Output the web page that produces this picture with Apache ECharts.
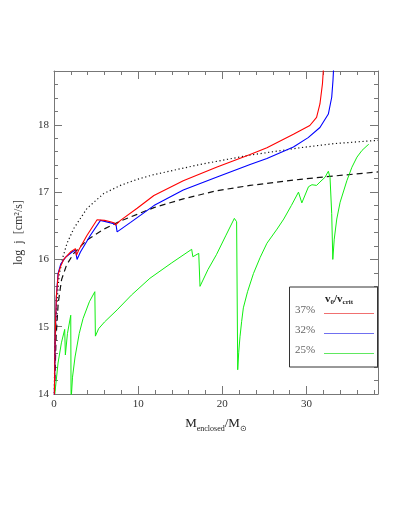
<!DOCTYPE html>
<html>
<head>
<meta charset="utf-8">
<script src="https://cdn.jsdelivr.net/npm/echarts@6/dist/echarts.min.js"></script>
<style>
  html, body { margin: 0; padding: 0; background: #fff; }
  #chart { width: 411px; height: 532px; }
</style>
</head>
<body>
<div id="chart"></div>
<script>
// M_enclosed (Msun) and log j values
const redM = [0.03, 0.15, 0.28, 0.5, 0.8, 1.15, 1.95, 2.55, 2.67, 2.94, 3.93, 5.12, 6.0, 6.71, 7.2, 7.3, 7.9, 9.88, 11.87, 15.36, 19.3, 23.3, 25.3, 28.45, 30.4, 31.2, 31.6, 31.9, 32.05]
const redJ = [13.9, 14.9, 15.45, 15.78, 15.9, 16.0, 16.11, 16.16, 16.06, 16.14, 16.36, 16.59, 16.58, 16.56, 16.54, 16.51, 16.58, 16.76, 16.95, 17.17, 17.37, 17.56, 17.66, 17.86, 17.99, 18.11, 18.31, 18.61, 18.9]

const blueM = [0.03, 0.17, 0.28, 0.48, 0.8, 1.36, 2.15, 2.55, 2.74, 3.14, 4.33, 5.52, 6.5, 7.1, 7.38, 7.5, 9.1, 11.87, 15.36, 19.3, 23.3, 25.3, 28.45, 30.2, 31.6, 32.6, 33.0, 33.15, 33.25]
const blueJ = [13.9, 14.95, 15.45, 15.79, 15.93, 16.03, 16.11, 16.14, 16.0, 16.11, 16.36, 16.58, 16.55, 16.53, 16.51, 16.41, 16.55, 16.8, 17.03, 17.22, 17.41, 17.5, 17.67, 17.81, 17.96, 18.16, 18.41, 18.66, 18.9]

const greenM = [0.1, 0.48, 0.88, 1.27, 1.35, 1.6, 1.99, 2.03, 2.2, 2.5, 3.0, 3.45, 4.2, 4.85, 4.92, 5.3, 6.0, 7.5, 9.2, 11.4, 14.0, 16.36, 16.5, 17.2, 17.35, 18.3, 19.3, 20.4, 21.43, 21.7, 21.83, 21.95, 22.1, 22.3, 22.5, 23.0, 23.7, 24.5, 25.3, 26.5, 27.3, 28.2, 29.05, 29.45, 30.24, 30.65, 31.2, 31.6, 32.2, 32.6, 32.8, 33.0, 33.13, 33.3, 33.6, 34.0, 34.8, 35.4, 36.0, 36.6, 37.2, 37.4]
const greenJ = [14.0, 14.46, 14.76, 14.96, 14.58, 14.9, 15.17, 13.9, 14.25, 14.55, 14.9, 15.12, 15.37, 15.52, 14.86, 14.97, 15.07, 15.25, 15.47, 15.72, 15.95, 16.15, 16.04, 16.09, 15.6, 15.85, 16.07, 16.35, 16.61, 16.56, 14.36, 14.62, 14.85, 15.08, 15.28, 15.52, 15.79, 16.03, 16.24, 16.45, 16.6, 16.8, 17.0, 16.84, 17.08, 17.11, 17.1, 17.15, 17.22, 17.31, 17.22, 16.68, 16.0, 16.3, 16.6, 16.85, 17.17, 17.37, 17.52, 17.62, 17.69, 17.71]

const dashM = [0.04, 0.25, 0.5, 0.9, 1.5, 2.35, 3.93, 5.92, 7.9, 9.88, 11.87, 15.36, 19.3, 23.3, 29.25, 33.3, 38.5]
const dashJ = [13.9, 14.85, 15.35, 15.7, 15.92, 16.09, 16.29, 16.45, 16.57, 16.67, 16.77, 16.9, 17.02, 17.1, 17.19, 17.24, 17.3]

const dotM = [0.02, 0.1, 0.3, 0.6, 0.76, 1.07, 1.55, 2.35, 3.93, 5.92, 7.9, 9.88, 11.87, 17.3, 23.3, 29.25, 33.2, 38.5]
const dotJ = [13.9, 14.6, 15.3, 15.75, 15.86, 16.04, 16.24, 16.46, 16.76, 16.98, 17.1, 17.19, 17.26, 17.41, 17.55, 17.66, 17.72, 17.77]

const legendNames = ['37%', '32%', '25%']
const legendColors = ['#f07070', '#7070f0', '#60e860']

const pairs = (xs, ys) => xs.map((x, i) => [x, ys[i]])

const serif = 'Liberation Serif'
const frame = '#777'

function xAx(position, interval, len, major) {
  return {
    type: 'value', min: 0, max: 38.5, interval: interval, position: position,
    axisLine: { show: major, onZero: false, lineStyle: { color: frame, width: 1 } },
    axisTick: { show: true, inside: true, length: len, lineStyle: { color: frame } },
    axisLabel: {
      show: major && position === 'bottom', margin: 5,
      fontFamily: serif, fontSize: 11, color: '#333',
      formatter: v => (v % 10 === 0 ? String(v) : ''),
    },
    splitLine: { show: false },
  }
}
function yAx(position, interval, len, major) {
  return {
    type: 'value', min: 14, max: 18.8, interval: interval, position: position,
    axisLine: { show: major, onZero: false, lineStyle: { color: frame, width: 1 } },
    axisTick: { show: true, inside: true, length: len, lineStyle: { color: frame } },
    axisLabel: {
      show: major && position === 'left', margin: 5,
      fontFamily: serif, fontSize: 11, color: '#333',
      formatter: v => (Math.abs(v - Math.round(v)) < 1e-6 ? String(Math.round(v)) : ''),
    },
    splitLine: { show: false },
  }
}

const xAxes = [xAx('bottom', 10, 8, true), xAx('bottom', 2, 4, false), xAx('top', 10, 8, true), xAx('top', 2, 4, false)]
Object.assign(xAxes[0], {
  name: 'M{s|enclosed}/M{s|⊙}',
  nameLocation: 'middle',
  nameGap: 18,
  nameTextStyle: {
    fontFamily: serif, fontSize: 13, color: '#222', lineHeight: 18,
    rich: { s: { fontFamily: serif, fontSize: 8, lineHeight: 8, verticalAlign: 'bottom', color: '#222' } },
  },
})
const yAxes = [yAx('left', 1, 8, true), yAx('left', 0.2, 4, false), yAx('right', 1, 8, true), yAx('right', 0.2, 4, false)]
Object.assign(yAxes[0], {
  name: 'log  j  [cm²/s]',
  nameLocation: 'middle',
  nameGap: 29,
  nameRotate: 90,
  nameTextStyle: { fontFamily: serif, fontSize: 12, color: '#333' },
})

function line(data, color, type, width) {
  return {
    type: 'line', data: data, showSymbol: false, symbol: 'none', smooth: false,
    xAxisIndex: 0, yAxisIndex: 0, clip: true, animation: false,
    lineStyle: { color: color, width: width, type: type },
  }
}

const lg = { x: 289.5, y: 287, w: 88, h: 80 }
const graphics = [
  { type: 'rect', silent: true, z: 50, shape: { x: lg.x, y: lg.y, width: lg.w, height: lg.h },
    style: { fill: '#fff', stroke: '#333', lineWidth: 1 } },
  { type: 'text', silent: true, z: 51, x: 339, y: 299,
    style: { text: 'v{s|0}/v{s|crit}', align: 'center', verticalAlign: 'middle',
      fontFamily: serif, fontSize: 11, fontWeight: 'bold', fill: '#222', lineHeight: 14,
      rich: { s: { fontFamily: serif, fontSize: 7, fontWeight: 'bold', lineHeight: 7, verticalAlign: 'bottom', fill: '#222' } } } },
]
legendNames.forEach((n, i) => {
  const yy = 310 + i * 20
  graphics.push({ type: 'text', silent: true, z: 51, x: 295, y: yy,
    style: { text: n, align: 'left', verticalAlign: 'middle', fontFamily: serif, fontSize: 11, fill: '#666' } })
  graphics.push({ type: 'line', silent: true, z: 51, shape: { x1: 324, y1: yy + 3.5, x2: 374, y2: yy + 3.5 },
    style: { stroke: legendColors[i], lineWidth: 1 } })
})

const myChart = echarts.init(document.getElementById('chart'), null, { renderer: 'canvas' })
myChart.setOption({
  animation: false,
  backgroundColor: '#fff',
  grid: { left: 54, top: 71, right: 33, bottom: 138, containLabel: false },
  xAxis: xAxes,
  yAxis: yAxes,
  series: [
    line(pairs(dotM, dotJ), '#111', [1.2, 2.6], 1.2),
    line(pairs(dashM, dashJ), '#111', [6, 4], 1.2),
    line(pairs(greenM, greenJ), '#11ee11', 'solid', 1),
    line(pairs(blueM, blueJ), '#0000ff', 'solid', 1.1),
    line(pairs(redM, redJ), '#ff0000', 'solid', 1.1),
  ],
  graphic: graphics,
})
</script>
</body>
</html>
